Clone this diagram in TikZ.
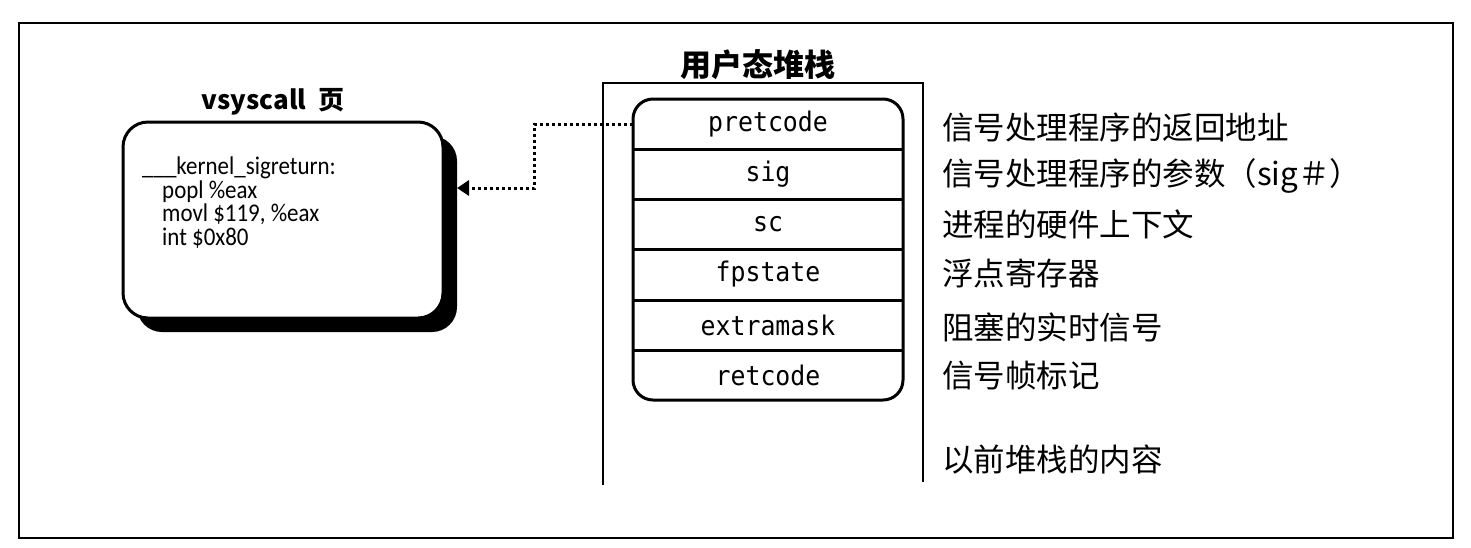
\documentclass[tikz,border=0pt]{standalone}
\usepackage{fontspec}
\setmainfont{Carlito}
\newfontfamily\cjk{Noto Sans CJK SC}
\newfontfamily\mono{DejaVu Sans Mono}[FakeStretch=0.92]
\newfontfamily\codefont{Carlito}[FakeStretch=0.9]
\usetikzlibrary{arrows.meta,shadows}
\begin{document}
\begin{tikzpicture}[x=1pt,y=-1pt,
  frame/.style={line width=1.8pt},
  pagebox/.style={draw, line width=3pt, fill=white, rounded corners=25pt,
    minimum width=320pt, minimum height=196pt,
    drop shadow={shadow xshift=14pt, shadow yshift=-14pt, fill=black, opacity=1}},
  rowcell/.style={minimum width=270pt, minimum height=50pt, inner sep=0pt,
    font=\mono\fontsize{27}{27}\selectfont},
  desc/.style={anchor=west, inner sep=0pt, font=\cjk\fontsize{31.5}{31.5}\selectfont},
  title/.style={inner sep=0pt, font=\cjk\bfseries\fontsize{31}{31}\selectfont},
  code/.style={anchor=north west, inner sep=0pt, align=left,
    font=\codefont\fontsize{25.5}{23.4}\selectfont},
  conn/.style={line width=3pt, dash pattern=on 3pt off 3pt,
    -{Triangle[length=12pt,width=15pt]}}
]
\useasboundingbox (0,0) rectangle (1471,547);
% outer frame
\draw[frame] (19,23) rectangle (1453,538);

% vsyscall page
\node[title, font=\cjk\bfseries\fontsize{26}{26}\selectfont] (vst) at (273,102) {vsyscall\ \ 页};
\node[pagebox] (vsys) at (283,220) {};
\node[code] (code) at (142,157) {\_\_\_kernel\_sigreturn:\\
\hspace*{20pt}popl \%eax\\
\hspace*{20pt}movl \$119, \%eax\\
\hspace*{20pt}int \$0x80};
\coordinate (tip) at (457,188);

% user stack
\node[title] (stt) at (758,65) {用户态堆栈};
\draw[frame] (603,485) -- (603,83) -- (923,83) -- (923,482);
\draw[line width=3pt, rounded corners=20pt] (633,99) rectangle (903,400);
\foreach \y in {149,199,249,300,350} \draw[line width=3pt] (633,\y) -- (903,\y);
\node[rowcell] (r1) at (768,124) {pretcode};
\node[rowcell] (r2) at (768,174) {sig};
\node[rowcell] (r3) at (768,224) {sc};
\node[rowcell] (r4) at (768,274.5) {fpstate};
\node[rowcell] (r5) at (768,325) {extramask};
\node[rowcell] (r6) at (768,375) {retcode};

% connector
\draw[conn] (r1.west) -- ++(-98,0) |- (tip);

% descriptions
\node[desc] (d1) at (942,127) {信号处理程序的返回地址};
\node[desc] (d2) at (942,176) {信号处理程序的参数（sig＃）};
\node[desc] (d3) at (942,224) {进程的硬件上下文};
\node[desc] (d4) at (942,273) {浮点寄存器};
\node[desc] (d5) at (942,327) {阻塞的实时信号};
\node[desc] (d6) at (942,376) {信号帧标记};
\node[desc] (d7) at (942,460) {以前堆栈的内容};
\end{tikzpicture}
\end{document}
